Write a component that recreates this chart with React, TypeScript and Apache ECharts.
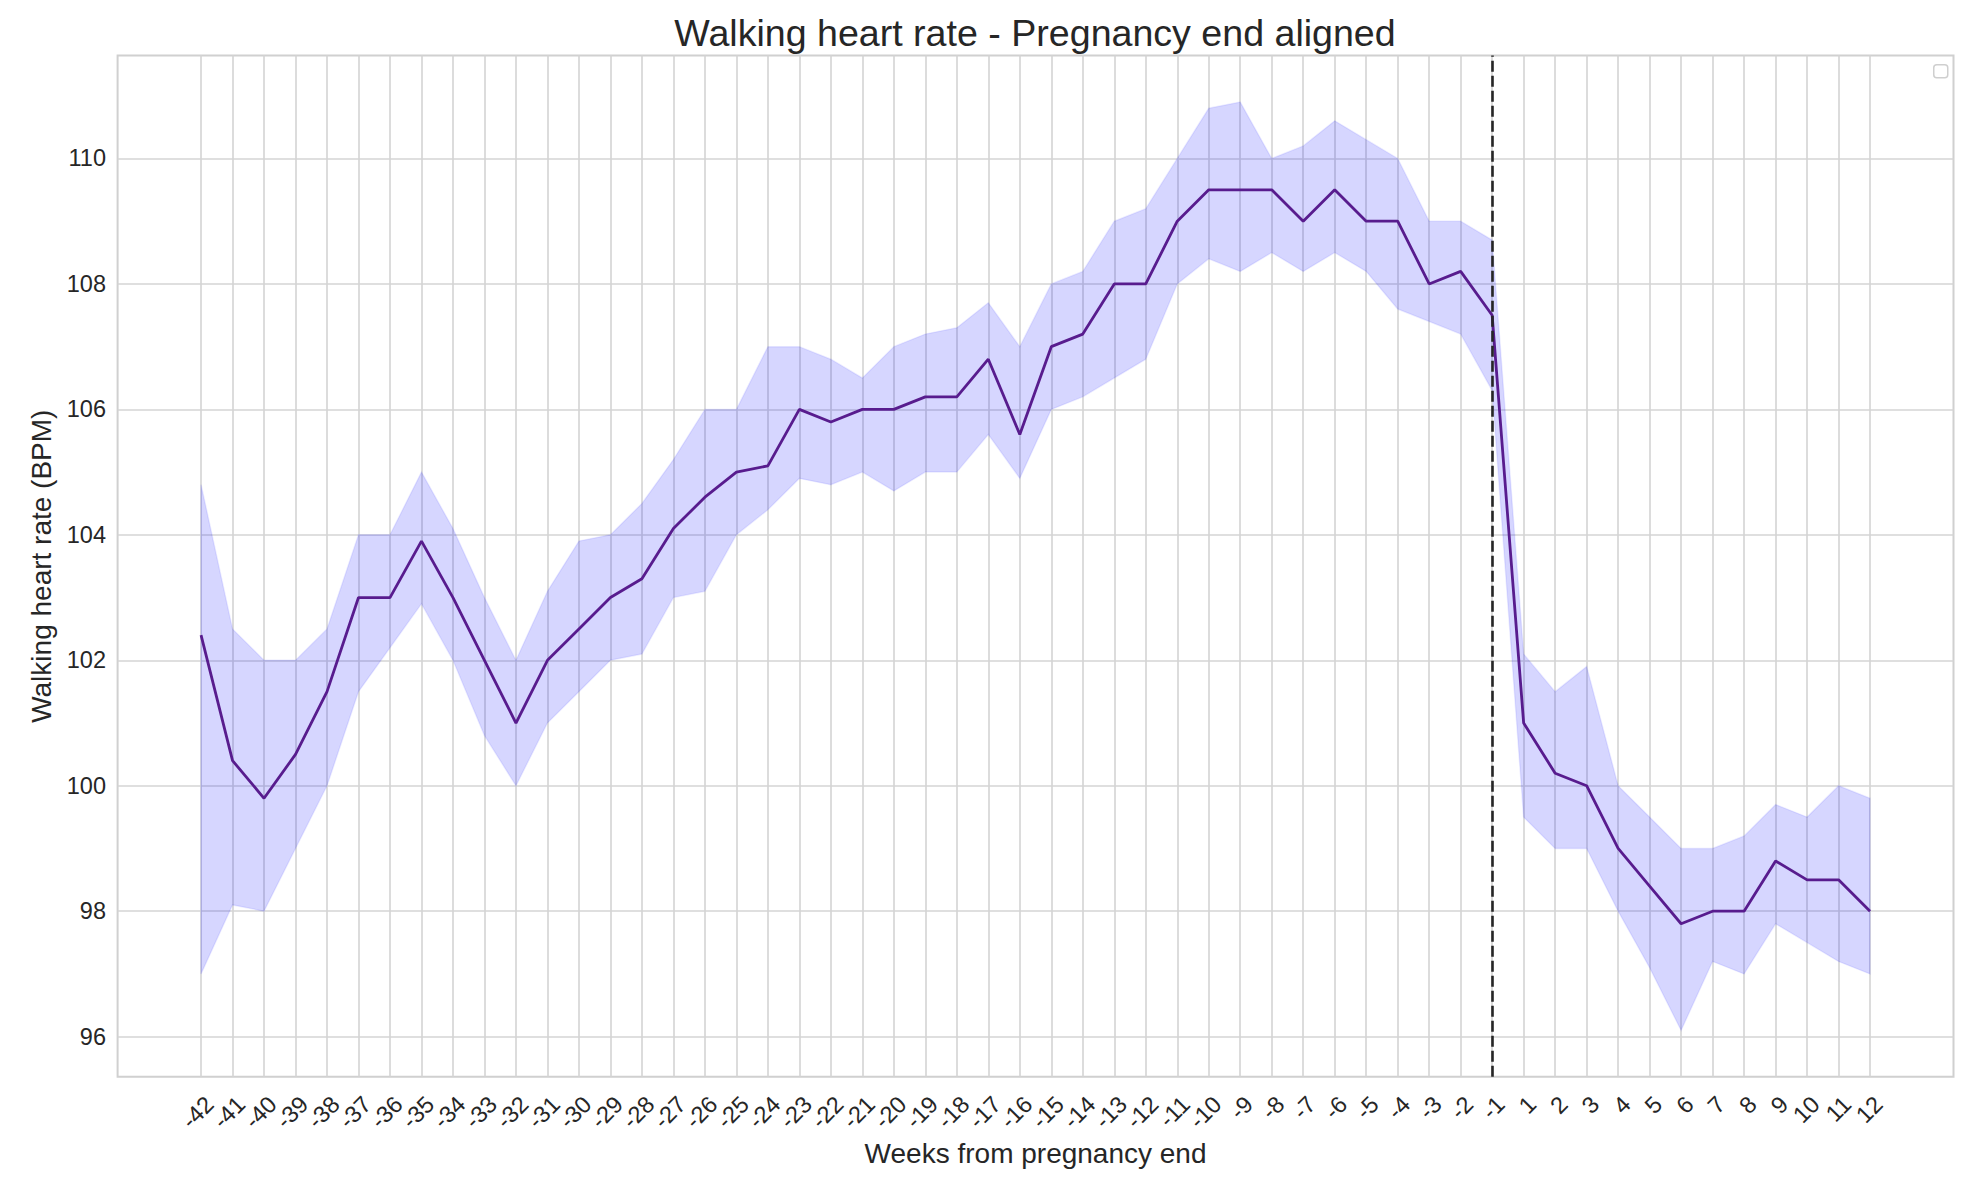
import React, { useEffect, useRef } from "react";
import * as echarts from "echarts";

const weekLabels = [
  "-42", "-41", "-40", "-39", "-38", "-37", "-36", "-35", "-34", "-33", "-32", "-31", "-30", "-29",
  "-28", "-27", "-26", "-25", "-24", "-23", "-22", "-21", "-20", "-19", "-18", "-17", "-16", "-15",
  "-14", "-13", "-12", "-11", "-10", "-9", "-8", "-7", "-6", "-5", "-4", "-3", "-2", "-1",
  "1", "2", "3", "4", "5", "6", "7", "8", "9", "10", "11", "12",
];

const meanHR = [
  102.4, 100.4, 99.8, 100.5, 101.5, 103.0, 103.0, 103.9, 103.0, 102.0, 101.0, 102.0, 102.5, 103.0,
  103.3, 104.1, 104.6, 105.0, 105.1, 106.0, 105.8, 106.0, 106.0, 106.2, 106.2, 106.8, 105.6, 107.0,
  107.2, 108.0, 108.0, 109.0, 109.5, 109.5, 109.5, 109.0, 109.5, 109.0, 109.0, 108.0, 108.2, 107.5,
  101.0, 100.2, 100.0, 99.0, 98.4, 97.8, 98.0, 98.0, 98.8, 98.5, 98.5, 98.0,
];

const upperHR = [
  104.8, 102.5, 102.0, 102.0, 102.5, 104.0, 104.0, 105.0, 104.1, 103.0, 102.0, 103.1, 103.9, 104.0,
  104.5, 105.2, 106.0, 106.0, 107.0, 107.0, 106.8, 106.5, 107.0, 107.2, 107.3, 107.7, 107.0, 108.0,
  108.2, 109.0, 109.2, 110.0, 110.8, 110.9, 110.0, 110.2, 110.6, 110.3, 110.0, 109.0, 109.0, 108.7,
  102.1, 101.5, 101.9, 100.0, 99.5, 99.0, 99.0, 99.2, 99.7, 99.5, 100.0, 99.8,
];

const lowerHR = [
  97.0, 98.1, 98.0, 99.0, 100.0, 101.5, 102.2, 102.9, 102.0, 100.8, 100.0, 101.0, 101.5, 102.0,
  102.1, 103.0, 103.1, 104.0, 104.4, 104.9, 104.8, 105.0, 104.7, 105.0, 105.0, 105.6, 104.9, 106.0,
  106.2, 106.5, 106.8, 108.0, 108.4, 108.2, 108.5, 108.2, 108.5, 108.2, 107.6, 107.4, 107.2, 106.3,
  99.5, 99.0, 99.0, 98.0, 97.1, 96.1, 97.2, 97.0, 97.8, 97.5, 97.2, 97.0,
];

const yTicks = [96, 98, 100, 102, 104, 106, 108, 110];
const pregnancyEndLabel = "-1";
const xMin = -2.65;
const xMax = 55.65;
const yMin = 95.36;
const yMax = 111.64;

const FONT = "'Liberation Sans', Arial, Helvetica, sans-serif";
const TEXT = "#262626";
const GRID = "#d4d4d4";

export default function App() {
  const ref = useRef<HTMLDivElement>(null);

  useEffect(() => {
    document.body.style.margin = "0";
    const chart = echarts.init(ref.current!, null, { renderer: "svg" });
    const idx = weekLabels.map((_, i) => i);
    const endIdx = weekLabels.indexOf(pregnancyEndLabel);
    // empty guard labels at the axis ends keep ECharts from hiding edge labels
    const xLabelValues = [xMin + 0.01, ...idx, xMax - 0.01];

    const option: any = {
      animation: false,
      backgroundColor: "#ffffff",
      textStyle: { fontFamily: FONT, color: TEXT },
      title: {
        text: "Walking heart rate - Pregnancy end aligned",
        left: 1030,
        textAlign: "center",
        top: 9,
        textStyle: { fontFamily: FONT, fontSize: 37.6, fontWeight: "normal", color: TEXT },
      },
      grid: {
        left: 117.6,
        right: 28.5,
        top: 55.6,
        bottom: 115.2,
        show: true,
        borderColor: "#d0d0d0",
        borderWidth: 2,
        backgroundColor: "transparent",
        containLabel: false,
      },
      xAxis: {
        type: "value",
        min: xMin,
        max: xMax,
        name: "Weeks from pregnancy end",
        nameLocation: "middle",
        nameGap: 63,
        nameTextStyle: { fontFamily: FONT, fontSize: 28, color: TEXT },
        axisLine: { show: false },
        axisTick: { show: false },
        splitLine: { show: false },
        axisLabel: {
          customValues: xLabelValues,
          formatter: (v: number) => {
            const k = Math.round(v);
            return Math.abs(v - k) < 1e-6 ? weekLabels[k] ?? "" : "";
          },
          rotate: 45,
          align: "right",
          verticalAlign: "top",
          margin: 15,
          showMinLabel: true,
          showMaxLabel: true,
          hideOverlap: false,
          fontFamily: FONT,
          fontSize: 23.5,
          color: TEXT,
        },
      },
      yAxis: {
        type: "value",
        min: yMin,
        max: yMax,
        name: "Walking heart rate (BPM)",
        nameLocation: "middle",
        nameGap: 62,
        nameTextStyle: { fontFamily: FONT, fontSize: 28, color: TEXT },
        axisLine: { show: false },
        axisTick: { show: false },
        splitLine: { show: false },
        axisLabel: {
          customValues: yTicks,
          formatter: (v: number) => String(v),
          margin: 11.6,
          showMinLabel: true,
          showMaxLabel: true,
          fontFamily: FONT,
          fontSize: 23.5,
          color: TEXT,
        },
      },
      graphic: [
        {
          type: "rect",
          left: 1933,
          top: 64,
          shape: { width: 14, height: 13, r: 3 },
          style: { fill: "#ffffff", stroke: "#cfcfcf", lineWidth: 1.5 },
          z: 10,
        },
      ],
      series: [
        {
          type: "line",
          name: "grid",
          data: [],
          silent: true,
          z: 0,
          markLine: {
            silent: true,
            z: 0,
            symbol: "none",
            label: { show: false },
            lineStyle: { color: GRID, width: 1.6, type: "solid" },
            data: [
              ...idx.map((i) => ({ xAxis: i })),
              ...yTicks.map((t) => ({ yAxis: t })),
            ],
          },
        },
        {
          type: "custom",
          name: "band",
          silent: true,
          z: 1,
          data: idx.map((i) => [i, lowerHR[i], upperHR[i]]),
          encode: { x: 0, y: [1, 2] },
          renderItem: (params: any, api: any) => {
            if (params.dataIndex !== 0) return null;
            const top = upperHR.map((u, i) => api.coord([i, u]));
            const bot = lowerHR.map((l, i) => api.coord([i, l])).reverse();
            return {
              type: "polygon",
              shape: { points: top.concat(bot) },
              style: { fill: "rgba(0,0,255,0.16)", stroke: "rgba(0,0,255,0.08)", lineWidth: 1.5 },
            };
          },
        },
        {
          type: "line",
          name: "mean",
          data: idx.map((i) => [i, meanHR[i]]),
          symbol: "none",
          z: 3,
          lineStyle: { color: "#581c8e", width: 2.8 },
        },
        {
          type: "line",
          name: "end",
          data: [],
          z: 4,
          markLine: {
            silent: true,
            z: 6,
            symbol: "none",
            label: { show: false },
            lineStyle: { color: "#262626", width: 2.6, type: [11, 4] },
            data: [{ xAxis: endIdx }],
          },
        },
      ],
    };

    chart.setOption(option);
    return () => chart.dispose();
  }, []);

  return (
    <div
      ref={ref}
      style={{ position: "absolute", left: 0, top: 0, width: 1982, height: 1192 }}
    />
  );
}
